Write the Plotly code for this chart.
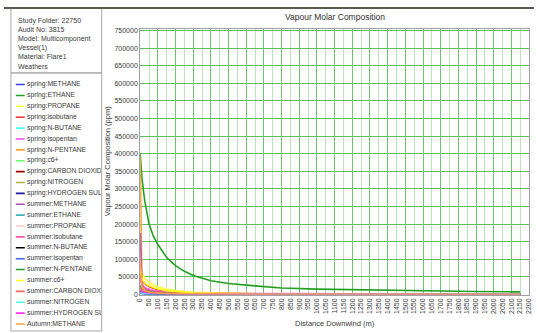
import plotly.graph_objects as go

W, H = 537, 333

# ---------------- data ----------------
distance = [0, 10, 25, 50, 75, 100, 150, 200, 250, 300, 400, 500, 650, 800,
            1000, 1150, 1300, 1500, 1700, 1900, 2100, 2150]

spring_methane = [3000, 2000, 1500, 1200, 1000, 900, 700, 600, 500, 450, 400, 350, 300, 250,
                  200, 180, 160, 140, 120, 100, 90, 90]
spring_ethane = [400000, 330000, 268000, 200000, 165000, 142000, 105000, 82000, 66000, 54000,
                 39000, 31500, 24500, 18500, 15500, 14000, 12500, 11000, 9500, 8500, 7700, 7500]
spring_propane = [95000, 62000, 46000, 35000, 27000, 22000, 15000, 11000, 8500, 6500, 4500,
                  3300, 2400, 1800, 1300, 1000, 800, 650, 500, 400, 350, 340]
spring_isobutane = [60000, 42000, 31000, 23000, 18000, 14000, 9500, 7000, 5400, 4300, 3000,
                    2300, 1700, 1300, 1000, 800, 650, 520, 430, 360, 320, 310]
spring_nbutane = [30000, 20000, 14000, 10000, 8000, 6500, 4500, 3400, 2700, 2200, 1600, 1200,
                  900, 700, 550, 450, 380, 320, 270, 230, 200, 195]
spring_isopentan = [40000, 26000, 19000, 14000, 11000, 9000, 6300, 4800, 3800, 3100, 2200, 1700,
                    1300, 1000, 800, 650, 550, 470, 400, 350, 310, 300]
spring_npentane = [390000, 25000, 13000, 8000, 6000, 4800, 3400, 2600, 2100, 1700, 1200, 900,
                   None, None, None, None, None, None, None, None, None, None]
spring_c6 = [15000, 10000, 7000, 5000, 4000, 3200, 2300, 1800, 1400, 1100, 800, 600, 450, 350,
             280, 230, 190, 160, 140, 120, 100, 100]
spring_co2 = [20000, 13000, 9500, 7000, 5500, 4500, 3200, 2500, 2000, 1600, 1200, 900, 700, 550,
              430, 350, 290, 240, 200, 170, 150, 150]
spring_nitrogen = [8000, 6000, 5000, 4200, 3800, 3500, 3100, 2900, 2700, 2600, 2400, 2300, 2200,
                   2100, 2000, 1900, 1800, 1700, 1650, 1600, 1550, None]
spring_h2s = [5000, 3000, 2000, 1500, 1200, 1000, 700, 550, 450, 380, 300, 250, 200, 160, 130,
              110, 90, 80, 70, 60, 50, 50]
summer_methane = [175000, 30000, 16000, 10000, 7500, 6000, 4500, 3700, 3200, 2900, 2600, 2400,
                  2300, 2200, 2150, 2100, 2100, 2050, 2050, 2000, 2000, 2000]
summer_ethane = [25000, 15000, 10000, 7000, 5500, 4500, 3200, 2500, 2000, 1700, 1300, 1000, 800,
                 650, 520, 430, 360, 300, 260, 220, 200, 200]
summer_propane = [35000, 24000, 17000, 12500, 10000, 8000, 5800, 4400, 3500, 2900, 2100, 1600,
                  1200, 950, 750, 600, 500, 420, 360, 310, 280, 270]
summer_isobutane = [50000, 28000, 19000, 13000, 10000, 8500, 6500, 5300, 4600, 4100, 3600, 3300,
                    3000, 2800, 2600, 2500, 2400, None, None, None, None, None]
summer_nbutane = [10000, 6000, 4200, 3000, 2400, 2000, 1400, 1100, 900, 750, 550, 430, 330, 260,
                  210, 180, 150, 130, 110, 100, 90, 90]
summer_isopentan = [8000, 5000, 3500, 2500, 2000, 1700, 1200, 950, 780, 650, 480, 380, 290, 230,
                    180, 150, 130, 110, 100, 90, 80, 80]
summer_npentane = [25000, 16000, 11000, 8000, 6300, 5200, 3700, 2900, 2300, 1900, 1400, 1100,
                   820, 650, 510, 420, 360, 300, 260, 230, 200, 200]
summer_c6 = [70000, 45000, 33000, 25000, 20000, 16000, 11000, 8000, 6200, 5000, 3500, 2600,
             1900, 1400, 1050, 850, 700, 570, 470, 400, 350, 340]
summer_co2 = [20000, 12000, 8500, 6200, 5000, 4100, 3000, 2300, 1900, 1600, 1200, 950, 720, 570,
              450, 370, 310, 260, 220, 190, 170, 165]
summer_nitrogen = [5000, 3500, 2600, 2000, 1700, 1500, 1200, 1000, 900, 820, 700, 620, 540, 480,
                   420, 380, 350, 320, 300, 280, 260, 255]
summer_h2s = [12000, 8000, 5800, 4200, 3400, 2800, 2000, 1600, 1300, 1100, 820, 650, 500, 400,
              320, 270, 230, 200, 170, 150, 130, 130]
autumn_methane = [100000, 20000, 11000, 7000, 5300, 4300, 3100, 2500, 2100, 1800, 1400, 1150,
                  950, 800, 650, 560, 490, 420, 370, 330, 300, 290]

series_names = [
    "spring:METHANE", "spring:ETHANE", "spring:PROPANE", "spring:isobutane",
    "spring:N-BUTANE", "spring:isopentan", "spring:N-PENTANE", "spring:c6+",
    "spring:CARBON DIOXIDE", "spring:NITROGEN", "spring:HYDROGEN SULPHIDE",
    "summer:METHANE", "summer:ETHANE", "summer:PROPANE", "summer:isobutane",
    "summer:N-BUTANE", "summer:isopentan", "summer:N-PENTANE", "summer:c6+",
    "summer:CARBON DIOXIDE", "summer:NITROGEN", "summer:HYDROGEN SULPHIDE",
    "Autumn:METHANE",
]
# labels as they appear (cut off) in the legend panel
legend_labels = [
    "spring:METHANE", "spring:ETHANE", "spring:PROPANE", "spring:isobutane",
    "spring:N-BUTANE", "spring:isopentan", "spring:N-PENTANE", "spring:c6+",
    "spring:CARBON DIOXIDE", "spring:NITROGEN", "spring:HYDROGEN SUL",
    "summer:METHANE", "summer:ETHANE", "summer:PROPANE", "summer:isobutane",
    "summer:N-BUTANE", "summer:isopentan", "summer:N-PENTANE", "summer:c6+",
    "summer:CARBON DIOXIDE", "summer:NITROGEN", "summer:HYDROGEN SULPHIDE",
    "Autumn:METHANE",
]
series_values = [
    spring_methane, spring_ethane, spring_propane, spring_isobutane,
    spring_nbutane, spring_isopentan, spring_npentane, spring_c6,
    spring_co2, spring_nitrogen, spring_h2s,
    summer_methane, summer_ethane, summer_propane, summer_isobutane,
    summer_nbutane, summer_isopentan, summer_npentane, summer_c6,
    summer_co2, summer_nitrogen, summer_h2s,
    autumn_methane,
]
series_colors = [
    "#3c3cff", "#22a022", "#ffff3c", "#ff2a2a",
    "#40ffff", "#ff40ff", "#ffa033", "#66ff66",
    "#a00000", "#b4b43c", "#1a1aa0",
    "#b04cc0", "#3cb4b4", "#ffc8c8", "#ff50aa",
    "#000000", "#4060ff", "#20a020", "#ffff20",
    "#ff6464", "#40ffff", "#ff30ff",
    "#ffa040",
]

info_lines = ["Study Folder: 22750", "Audit No: 3815", "Model: Multicomponent",
              "Vessel(1)", "Material: Flare1", "Weathers"]

x_ticks = list(range(0, 2201, 50))
y_ticks = list(range(0, 750001, 50000))

# ---------------- helpers (pixel -> paper) ----------------
def px(x):
    return x / W

def py(y):
    return 1 - y / H

FONT = "Liberation Sans"
TXT = "#3a3a3a"

fig = go.Figure()

# main chart traces
for name, vals, col in zip(series_names, series_values, series_colors):
    fig.add_trace(go.Scatter(x=distance, y=vals, mode="lines", name=name,
                             line=dict(color=col, width=1.6), showlegend=False,
                             xaxis="x", yaxis="y", connectgaps=False))

# overlay axis for darker 100 m gridlines
fig.add_trace(go.Scatter(x=[0], y=[0], mode="markers", marker=dict(opacity=0),
                         showlegend=False, xaxis="x3", yaxis="y", hoverinfo="skip"))

# legend panel drawn as its own subplot (clips long names like the original)
n = len(series_names)
leg_y = [11.8 + 11.05 * i for i in range(n)]
for i, (name, col) in enumerate(zip(series_names, series_colors)):
    fig.add_trace(go.Scatter(x=[4.5, 13.5], y=[leg_y[i], leg_y[i]], mode="lines",
                             line=dict(color=col, width=1.6), showlegend=False,
                             xaxis="x2", yaxis="y2", hoverinfo="skip"))
fig.add_trace(go.Scatter(x=[15.8] * n, y=leg_y, mode="text", text=legend_labels,
                         textposition="middle right",
                         textfont=dict(family=FONT, size=6.8, color=TXT),
                         showlegend=False, xaxis="x2", yaxis="y2", cliponaxis=True,
                         hoverinfo="skip"))

x0p, x1p = 138, 532
ytop, ybot = 27, 297

fig.update_layout(
    width=W, height=H,
    margin=dict(l=0, r=0, t=0, b=0),
    paper_bgcolor="white", plot_bgcolor="white",
    font=dict(family=FONT, size=7, color=TXT),
    xaxis=dict(domain=[px(x0p), px(x1p)], range=[0, 2200], anchor="y",
               tickmode="array", tickvals=x_ticks, ticktext=[str(v) for v in x_ticks],
               tickangle=-90, tickfont=dict(size=7, color=TXT),
               showgrid=True, gridcolor="#bfe4bf", gridwidth=1,
               showline=True, linecolor="#a0a0a0", mirror=True,
               zeroline=False, ticks="", ticklen=0),
    xaxis3=dict(overlaying="x", anchor="y", range=[0, 2200], tick0=0, dtick=100,
                showgrid=True, gridcolor="#6cc46c", gridwidth=1, showticklabels=False,
                ticks="", showline=False, zeroline=False, matches="x"),
    yaxis=dict(domain=[py(ybot), py(ytop)], range=[0, 750000 * (ybot - ytop) / (ybot - 29)],
               anchor="x", tickmode="array", tickvals=y_ticks,
               ticktext=[str(v) for v in y_ticks], tickfont=dict(size=7, color=TXT),
               showgrid=True, gridcolor="#5fbf5f", gridwidth=1,
               showline=True, linecolor="#a0a0a0", mirror=True,
               zeroline=False, ticks="", ticklen=0),
    xaxis2=dict(domain=[px(7.5), px(98.5)], range=[0, 91], visible=False, anchor="y2",
                fixedrange=True),
    yaxis2=dict(domain=[0, py(72)], range=[261, 0], visible=False, anchor="x2",
                fixedrange=True),
)

# panel frames
fig.add_shape(type="rect", xref="paper", yref="paper", x0=px(7), x1=px(99), y0=py(72), y1=py(6.5),
              line=dict(color="#a8a8a8", width=1))
fig.add_shape(type="rect", xref="paper", yref="paper", x0=px(7), x1=px(99), y0=py(334), y1=py(72),
              line=dict(color="#a8a8a8", width=1))
fig.add_shape(type="line", xref="paper", yref="paper", x0=0, x1=1, y0=py(6), y1=py(6),
              line=dict(color="#5a5a52", width=2))

# info text
for i, t in enumerate(info_lines):
    fig.add_annotation(xref="paper", yref="paper", x=px(12), y=py(19 + 9.2 * i), text=t,
                       showarrow=False, xanchor="left", yanchor="middle",
                       font=dict(family=FONT, size=7, color=TXT))

# titles
fig.add_annotation(xref="paper", yref="paper", x=px((x0p + x1p) / 2), y=py(15),
                   text="Vapour Molar Composition", showarrow=False,
                   font=dict(family=FONT, size=8.5, color="#303030"), yanchor="middle")
fig.add_annotation(xref="paper", yref="paper", x=px((x0p + x1p) / 2), y=py(326),
                   text="Distance Downwind (m)", showarrow=False,
                   font=dict(family=FONT, size=7.5, color=TXT), yanchor="middle")
fig.add_annotation(xref="paper", yref="paper", x=px(105), y=py((ytop + ybot) / 2),
                   text="Vapour Molar Composition (ppm)", showarrow=False, textangle=-90,
                   font=dict(family=FONT, size=7.5, color=TXT), xanchor="center", yanchor="middle")

fig.write_html("out.html")
